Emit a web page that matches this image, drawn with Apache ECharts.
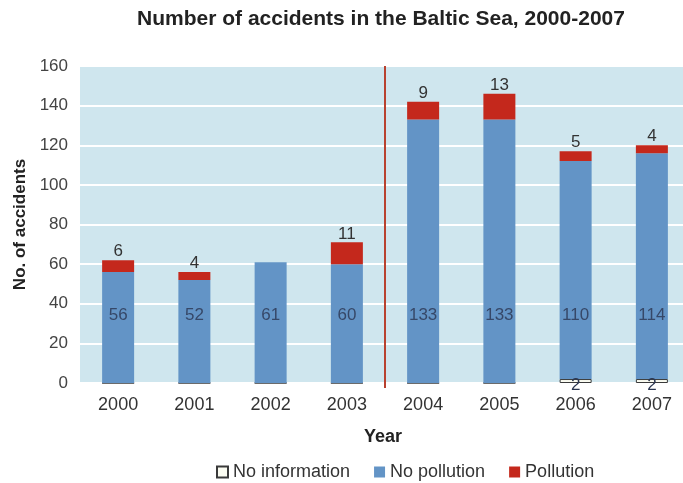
<!DOCTYPE html>
<html>
<head>
<meta charset="utf-8">
<script src="https://cdn.jsdelivr.net/npm/echarts@6/dist/echarts.min.js"></script>
<style>html,body{margin:0;padding:0;background:#fff}#c{width:683px;height:483px}</style>
</head>
<body>
<div id="c"></div>
<script>
const years = ['2000','2001','2002','2003','2004','2005','2006','2007'];
const noInformation = [0,0,0,0,0,0,2,2];
const noPollution = [56,52,61,60,133,133,110,114];
const pollution = [6,4,0,11,9,13,5,4];
const yTicks = [0,20,40,60,80,100,120,140,160];
const blueLabelLevel = 34;
const dividerAt = 3.5;

const chart = echarts.init(document.getElementById('c'));
const font = 'Liberation Sans, Arial, sans-serif';
chart.setOption({
  animation: false,
  textStyle: {fontFamily: font},
  title: {
    text: 'Number of accidents in the Baltic Sea, 2000-2007',
    left: 376, textAlign: 'center', top: 4,
    textStyle: {fontSize: 21, fontWeight: 'bold', color: '#222', fontFamily: font}
  },
  legend: {
    data: ['No information','No pollution','Pollution'],
    top: 458, left: 211, itemWidth: 11, itemHeight: 11, itemGap: 24, icon: 'rect',
    textStyle: {fontSize: 18, color: '#333', fontFamily: font}
  },
  grid: {left: 80, top: 66, width: 610, bottom: 100, outerBoundsMode: 'none', containLabel: false},
  xAxis: [{
    type: 'category', data: years,
    name: 'Year', nameLocation: 'middle', nameGap: 45,
    nameTextStyle: {fontSize: 18, fontWeight: 'bold', color: '#222', padding:[0,0,0,-4]},
    axisLine: {show: false}, axisTick: {show: false},
    axisLabel: {fontSize: 18, color: '#333', margin: 13}
  },{
    type: 'value', min: -0.5, max: 7.5, show: false
  }],
  yAxis: {
    type: 'value', min: yTicks[0], max: yTicks[yTicks.length-1], interval: 20,
    name: 'No. of accidents', nameLocation: 'middle', nameGap: 49,
    nameTextStyle: {fontSize: 17, fontWeight: 'bold', color: '#222'},
    axisLine: {show: false}, axisTick: {show: false},
    axisLabel: {fontSize: 17, color: '#444', margin: 12},
    splitLine: {show: true, lineStyle: {color: '#ffffff', width: 2}},
    splitArea: {show: true, areaStyle: {color: ['#cfe6ee','#cfe6ee']}}
  },
  series: [{
    name: 'No information', type: 'bar', stack: 's', data: noInformation, barWidth: 32,
    itemStyle: {color: '#fbfcf2', borderColor: '#3a3a3a', borderWidth: 1},
    label: {show: true, position: 'inside', offset: [0, 4], fontSize: 17, color: '#2a3550',
      formatter: p => p.value ? String(p.value) : ''}
  },{
    name: 'No pollution', type: 'bar', stack: 's', data: noPollution, barWidth: 32,
    itemStyle: {color: '#6394c6'}
  },{
    name: 'Pollution', type: 'bar', stack: 's', data: pollution, barWidth: 32,
    itemStyle: {color: '#c4281c'},
    label: {show: true, position: 'top', distance: 0, fontSize: 17, color: '#333',
      formatter: p => p.value ? String(p.value) : ''}
  },{
    name: 'blueLabels', type: 'scatter', symbolSize: 0, silent: true,
    data: noPollution.map(v => ({value: blueLabelLevel, label: {formatter: String(v)}})),
    label: {show: true, position: 'inside', fontSize: 17, color: '#2a3550'}
  },{
    name: 'divider', type: 'line', xAxisIndex: 1, silent: true, clip: false,
    symbol: 'none', data: [[dividerAt, -2.5], [dividerAt, 160]],
    lineStyle: {color: '#b8412f', width: 2}
  }]
});
</script>
</body>
</html>
